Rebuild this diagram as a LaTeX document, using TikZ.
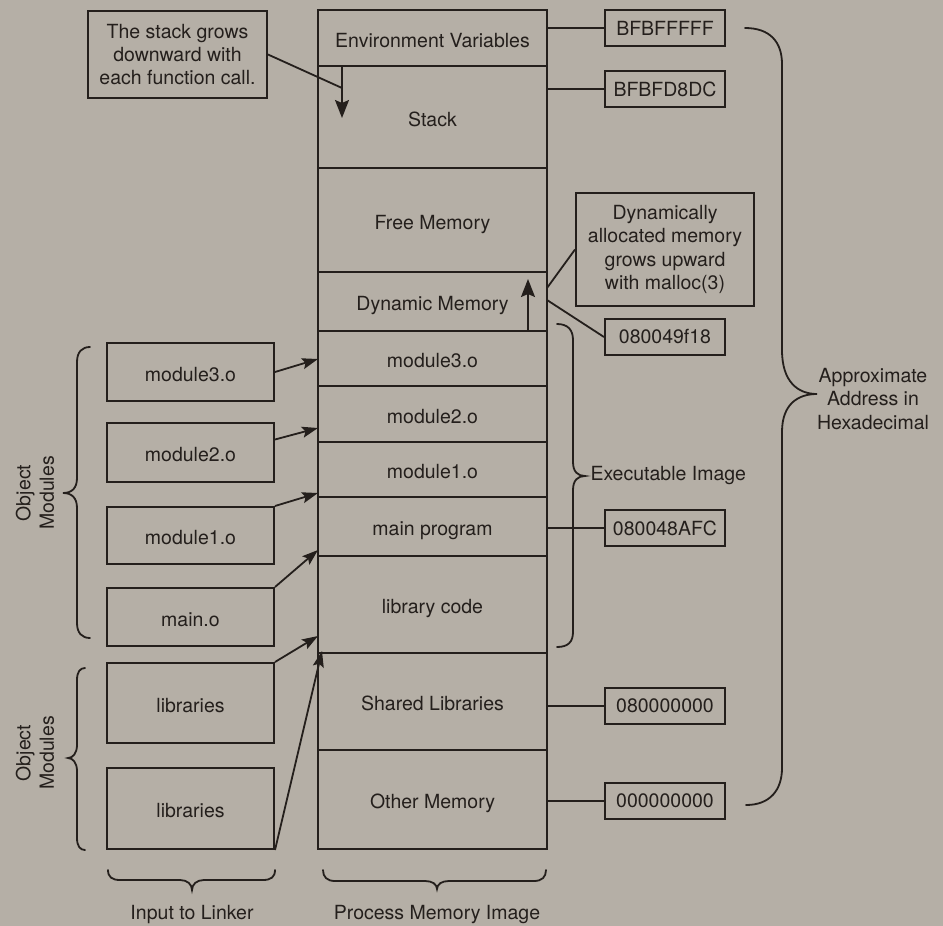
\documentclass[tikz,border=0pt]{standalone}
\usepackage{fontspec}
\setmainfont{TeX Gyre Heros}
\usetikzlibrary{arrows.meta,calc}
\definecolor{paper}{RGB}{181,175,166}
\definecolor{ink}{RGB}{36,31,28}
\begin{document}
\begin{tikzpicture}[x=1pt,y=-1pt,
  every node/.style={font=\fontsize{19.5}{23.3}\selectfont, text=ink},
  seg/.style={draw=ink, line width=2pt, minimum width=229pt, inner sep=0pt,
    text height=18pt, text depth=0pt},
  inbox/.style={draw=ink, line width=2pt, minimum width=167pt, inner sep=0pt,
    text height=18pt, text depth=0pt},
  addr/.style={draw=ink, line width=2pt, minimum width=120pt, minimum height=36pt, inner sep=0pt},
  note/.style={draw=ink, line width=2pt, align=center, inner sep=0pt},
  wire/.style={draw=ink, line width=1.8pt},
  link/.style={draw=ink, line width=1.8pt, -{Stealth[length=16pt,width=11pt,inset=3pt]}},
  growarrow/.style={draw=ink, line width=1.8pt, -{Stealth[length=18pt,width=14pt,inset=3pt]}},
  brc/.style={draw=ink, line width=1.8pt, line cap=round}
]
% page and background
\fill[paper] (0,0) rectangle (943,926);
\useasboundingbox (0,0) rectangle (943,926);

% process memory image, top (high addresses) to bottom
\node[seg, minimum height=56pt]  (env)     at (432.5,38)    {Environment Variables};
\node[seg, minimum height=102pt] (stack)   at (432.5,117)   {Stack};
\node[seg, minimum height=104pt] (free)    at (432.5,220)   {Free Memory};
\node[seg, minimum height=59pt]  (dyn)     at (432.5,301.5) {Dynamic Memory};
\node[seg, minimum height=55pt]  (sm3)     at (432.5,358.5) {module3.o};
\node[seg, minimum height=56pt]  (sm2)     at (432.5,414)   {module2.o};
\node[seg, minimum height=55pt]  (sm1)     at (432.5,469.5) {module1.o};
\node[seg, minimum height=59pt]  (smain)   at (432.5,526.5) {main program};
\node[seg, minimum height=97pt]  (slib)    at (432.5,604.5) {library code};
\node[seg, minimum height=97pt]  (sshared) at (432.5,701.5) {Shared Libraries};
\node[seg, minimum height=99pt]  (sother)  at (432.5,799.5) {Other Memory};

% linker inputs
\node[inbox, minimum height=58pt] (m3o)  at (190.5,372)   {module3.o};
\node[inbox, minimum height=59pt] (m2o)  at (190.5,452.5) {module2.o};
\node[inbox, minimum height=57pt] (m1o)  at (190.5,535.5) {module1.o};
\node[inbox, minimum height=58pt] (maino) at (190.5,617)  {main.o};
\node[inbox, minimum height=80pt] (lib1) at (190.5,703)   {libraries};
\node[inbox, minimum height=81pt] (lib2) at (190.5,808.5) {libraries};

% addresses
\node[addr] (a1) at (665,28)  {BFBFFFFF};
\node[addr] (a2) at (665,89)  {BFBFD8DC};
\node[addr] (a3) at (665,337) {080049f18};
\node[addr] (a4) at (665,528) {080048AFC};
\node[addr] (a5) at (665,706) {080000000};
\node[addr] (a6) at (665,801) {000000000};

% callouts
\node[note, minimum width=179pt, minimum height=87pt] (note1) at (177.5,54.5)
  {The stack grows\\downward with\\each function call.};
\node[note, minimum width=178pt, minimum height=113pt] (note2) at (665,249.5)
  {Dynamically\\allocated memory\\grows upward\\with malloc(3)};

% address leaders
\draw[wire] (a1.west -| env.east) -- (a1.west);
\draw[wire] (a2.west -| stack.east) -- (a2.west);
\coordinate (dynout) at (547,300);
\draw[wire] (dynout) -- (a3.west);
\draw[wire] (a4.west -| smain.east) -- (a4.west);
\draw[wire] (a5.west -| sshared.east) -- (a5.west);
\draw[wire] (a6.west -| sother.east) -- (a6.west);

% growth arrows and their callouts
\coordinate (sgrow) at (342,66);
\coordinate (sknee) at (342,88);
\coordinate (stip)  at (342,118);
\draw[growarrow] (sgrow) -- (stip);
\draw[wire] (note1.east) -- (sknee);
\coordinate (dbase) at (528,331);
\coordinate (dtip)  at (528,279);
\draw[growarrow] (dbase) -- (dtip);
\coordinate (dynin) at (547,288);
\draw[wire] (note2.west) -- (dynin);

% linking arrows into the executable image
\coordinate (in3)  at (318,359);
\coordinate (in2)  at (318,428);
\coordinate (in1)  at (318,493);
\coordinate (inm)  at (318,550);
\coordinate (inl1) at (318,636);
\coordinate (inl2) at (322,651);
\draw[link] (m3o.east) -- (in3);
\draw[link] ([yshift=13pt]m2o.east) -- (in2);
\draw[link] (m1o.north east) -- (in1);
\draw[link] (maino.north east) -- (inm);
\draw[link] (lib1.north east) -- (inl1);
\draw[link] (lib2.south east) -- (inl2);

% braces
\draw[brc] (90,347) .. controls (82,347) and (77,352) .. (77,362) -- (77,478)
  .. controls (77,488) and (72,493) .. (63,493)
  .. controls (72,493) and (77,498) .. (77,508) -- (77,623)
  .. controls (77,633) and (82,638) .. (90,638);
\draw[brc] (85,668) .. controls (80,668) and (77,672) .. (77,680) -- (77,745)
  .. controls (77,753) and (73,758) .. (68,758)
  .. controls (73,758) and (77,763) .. (77,771) -- (77,838)
  .. controls (77,846) and (80,850) .. (85,850);
\draw[brc] (557,324) .. controls (568,324) and (573,330) .. (573,340) -- (573,462)
  .. controls (573,472) and (578,476) .. (585,476)
  .. controls (578,476) and (573,480) .. (573,490) -- (573,632)
  .. controls (573,642) and (568,647) .. (557,647);
\draw[brc] (745,28) .. controls (770,28) and (782,42) .. (782,64) -- (782,350)
  .. controls (782,382) and (798,394) .. (817,394)
  .. controls (798,394) and (782,404) .. (782,432) -- (782,768)
  .. controls (782,790) and (770,805) .. (746,805);
\draw[brc] (108,870) .. controls (108,877) and (112,880) .. (120,880) -- (180,880)
  .. controls (187,880) and (192,884) .. (192,890)
  .. controls (192,884) and (197,880) .. (204,880) -- (263,880)
  .. controls (271,880) and (275,877) .. (275,870);
\draw[brc] (323,870) .. controls (323,877) and (327,881) .. (335,881) -- (425,881)
  .. controls (432,881) and (437,884) .. (437,889)
  .. controls (437,884) and (442,881) .. (449,881) -- (534,881)
  .. controls (542,881) and (546,877) .. (546,870);

% labels
\node[rotate=90, align=center] (om1) at (35,493) {Object\\Modules};
\node[rotate=90, align=center] (om2) at (35,753) {Object\\Modules};
\node[anchor=west] (lexe) at (587,476) {Executable Image};
\node[align=center] (laddr) at (873,399) {Approximate\\Address in\\Hexadecimal};
\node (llink) at (192,915) {Input to Linker};
\node (lproc) at (437,915) {Process Memory Image};
\end{tikzpicture}
\end{document}
